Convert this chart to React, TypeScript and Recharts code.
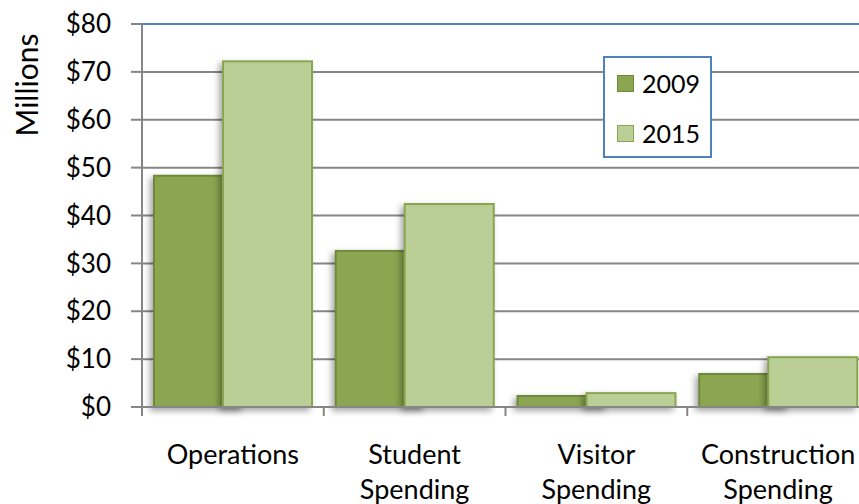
import React from 'react';
import { BarChart, Bar, XAxis, YAxis, CartesianGrid, Legend, ReferenceLine } from 'recharts';

const categories = ['Operations', 'Student\nSpending', 'Visitor\nSpending', 'Construction\nSpending'];
const values2009 = [48.3, 32.6, 2.3, 6.9];
const values2015 = [72.2, 42.4, 2.9, 10.4];
const yTicks = [0, 10, 20, 30, 40, 50, 60, 70, 80];

const data = categories.map((name, i) => ({ name, y2009: values2009[i], y2015: values2015[i] }));

const FONT = 'Lato, "Open Sans", sans-serif';
const CHART_W = 869;
const AXIS_W = 142;
const BAND = (CHART_W - AXIS_W) / categories.length;

const C2009 = '#8aa650';
const C2015 = '#b9cf96';

const shadowShape = (fill: string, stroke: string) => (props: any) => {
  const { x, y, width, height } = props;
  return (
    <rect
      x={x}
      y={y}
      width={width}
      height={height}
      fill={fill}
      stroke={stroke}
      strokeWidth={2}
      style={{ filter: 'drop-shadow(-3px 3px 3px rgba(0,0,0,0.35))' }}
    />
  );
};

const CategoryTick = (props: any) => {
  const { x, y, payload, index } = props;
  const lines = String(payload.value).split('\n');
  return (
    <g>
      <line x1={x - BAND / 2} x2={x - BAND / 2} y1={y} y2={y + 9} stroke="#868686" strokeWidth={2} />
      {index === categories.length - 1 && (
        <line x1={x + BAND / 2} x2={x + BAND / 2} y1={y} y2={y + 9} stroke="#868686" strokeWidth={2} />
      )}
      {lines.map((l, i) => (
        <text key={i} x={x} y={y + 46 + i * 35} textAnchor="middle" dominantBaseline="central"
          fontSize={27} fontFamily={FONT} fill="#000">
          {l}
        </text>
      ))}
    </g>
  );
};

const LegendBox = (props: any) => {
  const items = props.payload || [];
  return (
    <div style={{ fontFamily: FONT, fontSize: 25, color: '#000' }}>
      {items.map((it: any, i: number) => (
        <div key={i} style={{ display: 'flex', alignItems: 'center', height: 50, paddingLeft: 12 }}>
          <span style={{
            width: 15, height: 15, background: it.color, border: `1px solid ${it.value === '2009' ? '#6f8a3c' : '#8aa650'}`,
            display: 'inline-block', marginRight: 8,
          }} />
          <span>{it.value}</span>
        </div>
      ))}
    </div>
  );
};

const App: React.FC = () => {
  return (
    <div style={{ position: 'absolute', left: 0, top: 0, width: 859, height: 504, overflow: 'hidden', background: '#fff' }}>
      <BarChart width={CHART_W} height={504} data={data} barGap={-20}
        margin={{ top: 24, right: 0, left: 0, bottom: 0 }}>
        <CartesianGrid vertical={false} stroke="#868686" strokeWidth={2} />
        <XAxis dataKey="name" height={97} interval={0} tickLine={false} tickSize={0} tickMargin={0}
          axisLine={{ stroke: '#868686', strokeWidth: 2 }} tick={<CategoryTick />} />
        <YAxis width={AXIS_W} domain={[0, 80]} ticks={yTicks} interval={0}
          tickFormatter={(v) => `$${v}`} tickSize={11} tickMargin={20}
          tick={{ fontSize: 26, fontFamily: FONT, fill: '#000' }}
          tickLine={{ stroke: '#868686', strokeWidth: 2 }}
          axisLine={{ stroke: '#868686', strokeWidth: 2 }}
          label={{
            content: () => (
              <text x={26} y={85} transform="rotate(-90 26 85)" textAnchor="middle" dominantBaseline="central"
                fontSize={30} fontFamily={FONT} fill="#000">Millions</text>
            ),
          }} />
        <ReferenceLine y={80} stroke="#4f81bd" strokeWidth={2} />
        <Legend layout="vertical" align="center" verticalAlign="middle" content={<LegendBox />}
          wrapperStyle={{
            position: 'absolute', left: 603, top: 56, width: 109, height: 102, boxSizing: 'border-box',
            border: '2px solid #4f81bd', background: '#fff', padding: 0, margin: 0,
          }} />
        <Bar dataKey="y2009" name="2009" fill={C2009} barSize={89} isAnimationActive={false}
          shape={shadowShape(C2009, '#6f8a3c')} />
        <Bar dataKey="y2015" name="2015" fill={C2015} barSize={89} isAnimationActive={false}
          shape={shadowShape(C2015, '#8aa650')} />
      </BarChart>
    </div>
  );
};

export default App;
